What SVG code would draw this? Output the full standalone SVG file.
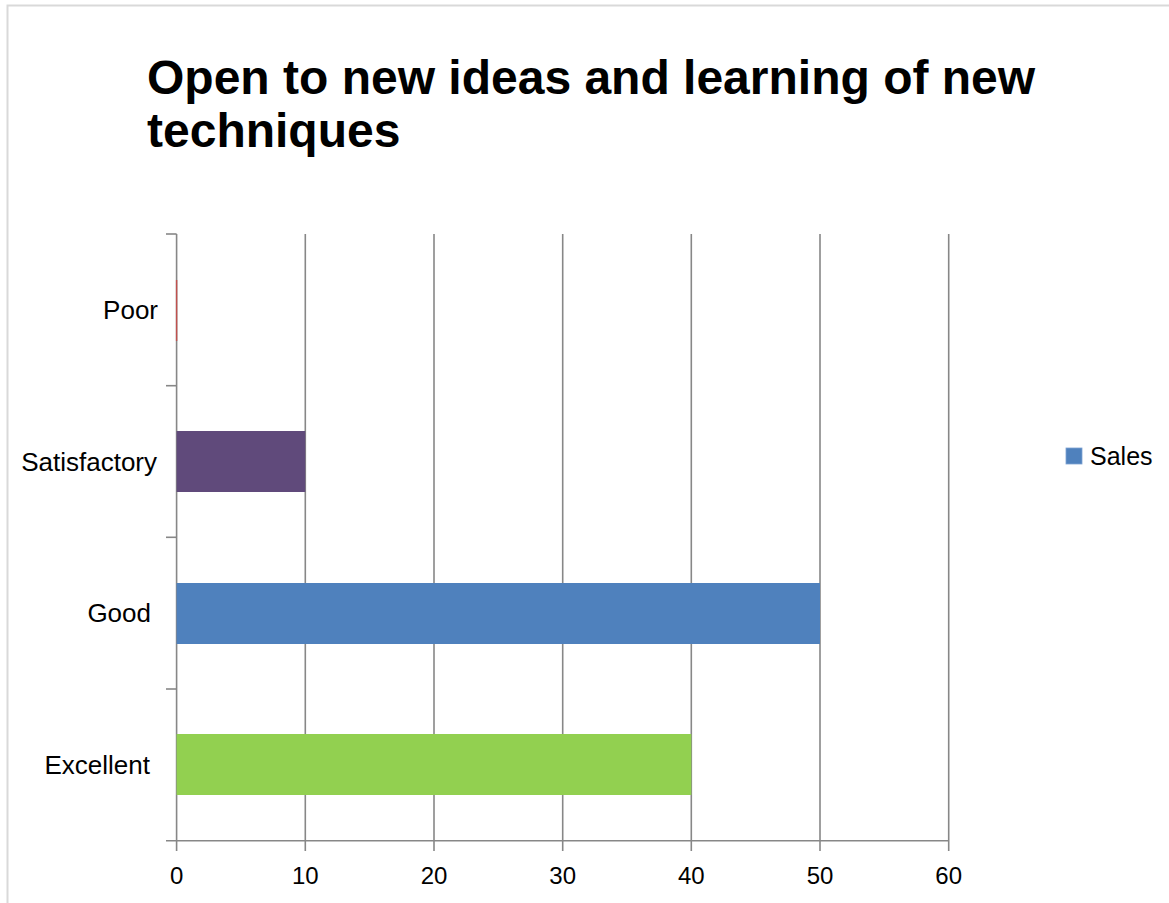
<svg xmlns="http://www.w3.org/2000/svg" width="1169" height="903" viewBox="0 0 1169 903">
<style>
.grid{stroke:#878787;stroke-width:1.6;fill:none}
.title{font-family:"Liberation Sans",Arial,sans-serif;font-weight:bold;font-size:48px;fill:#000}
.cat{font-family:"Liberation Sans",Arial,sans-serif;font-size:26px;fill:#000;text-anchor:end}
.num{font-family:"Liberation Sans",Arial,sans-serif;font-size:24px;fill:#000;text-anchor:middle}
.leg{font-family:"Liberation Sans",Arial,sans-serif;font-size:25px;fill:#000}
</style>
<rect x="0" y="0" width="1169" height="903" fill="#fff"/>
<rect id="frame" x="7.5" y="5.5" width="1175" height="910" fill="#fff" stroke="#d9d9d9" stroke-width="2"/>
<g id="title">
<text class="title" x="147" y="94">Open to new ideas and learning of new</text>
<text class="title" x="147" y="147">techniques</text>
</g>
<g id="gridlines">
<line class="grid" x1="305.3" y1="234" x2="305.3" y2="851"/>
<line class="grid" x1="434" y1="234" x2="434" y2="851"/>
<line class="grid" x1="562.7" y1="234" x2="562.7" y2="851"/>
<line class="grid" x1="691.3" y1="234" x2="691.3" y2="851"/>
<line class="grid" x1="820" y1="234" x2="820" y2="851"/>
<line class="grid" x1="948.7" y1="234" x2="948.7" y2="851"/>
</g>
<g id="axes">
<line class="grid" x1="176.6" y1="234" x2="176.6" y2="851"/>
<line class="grid" x1="166" y1="840.7" x2="948.7" y2="840.7"/>
<line class="grid" x1="166" y1="234" x2="176.6" y2="234"/>
<line class="grid" x1="166" y1="385.7" x2="176.6" y2="385.7"/>
<line class="grid" x1="166" y1="537.3" x2="176.6" y2="537.3"/>
<line class="grid" x1="166" y1="689" x2="176.6" y2="689"/>
</g>
<g id="bars">
<rect id="bar-poor" x="175.9" y="280" width="1.4" height="61" fill="#C0504D"/>
<rect id="bar-satisfactory" x="176.6" y="431" width="128.7" height="61" fill="#604A7B"/>
<rect id="bar-good" x="176.6" y="583" width="643.4" height="61" fill="#4F81BD"/>
<rect id="bar-excellent" x="176.6" y="734" width="514.7" height="61" fill="#92D050"/>
</g>
<g id="category-labels">
<text class="cat" x="158" y="319">Poor</text>
<text class="cat" x="157" y="471">Satisfactory</text>
<text class="cat" x="151" y="622">Good</text>
<text class="cat" x="150" y="774">Excellent</text>
</g>
<g id="value-labels">
<text class="num" x="176.6" y="884">0</text>
<text class="num" x="305.3" y="884">10</text>
<text class="num" x="434" y="884">20</text>
<text class="num" x="562.7" y="884">30</text>
<text class="num" x="691.3" y="884">40</text>
<text class="num" x="820" y="884">50</text>
<text class="num" x="948.7" y="884">60</text>
</g>
<g id="legend">
<rect x="1066" y="448" width="16" height="16" fill="#4F81BD" stroke="#7da2d2" stroke-width="0.8"/>
<text class="leg" x="1090" y="465">Sales</text>
</g>
</svg>
